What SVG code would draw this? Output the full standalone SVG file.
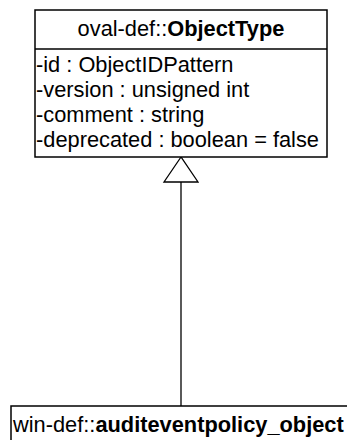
<svg xmlns="http://www.w3.org/2000/svg" width="347" height="440" viewBox="0 0 347 440">
<style>
.box{fill:#fff;stroke:#000;stroke-width:1.5}
.t{font-family:"Liberation Sans",Arial,sans-serif;font-size:21.8px;fill:#000}
.b{font-weight:bold}
.edge{fill:none;stroke:#000;stroke-width:1.3}
</style>
<rect width="347" height="440" fill="#fff"/>
<g id="connectors">
<line class="edge" x1="181" y1="182" x2="181" y2="406"/>
<polygon class="edge" points="181,157 164,182 198,182" fill="#fff"/>
</g>
<g id="ObjectType">
<rect class="box" x="35" y="10" width="292" height="147"/>
<line class="box" x1="35" y1="49" x2="327" y2="49"/>
<text class="t" x="181" y="36" text-anchor="middle">oval-def::<tspan class="b">ObjectType</tspan></text>
<text class="t" x="36" y="72">-id : ObjectIDPattern</text>
<text class="t" x="36" y="97">-version : unsigned int</text>
<text class="t" x="36" y="122">-comment : string</text>
<text class="t" x="36" y="147">-deprecated : boolean = false</text>
</g>
<g id="auditeventpolicy_object">
<rect class="box" x="11" y="406" width="345" height="50"/>
<text class="t" x="13" y="432">win-def::<tspan class="b">auditeventpolicy_object</tspan></text>
</g>
</svg>
